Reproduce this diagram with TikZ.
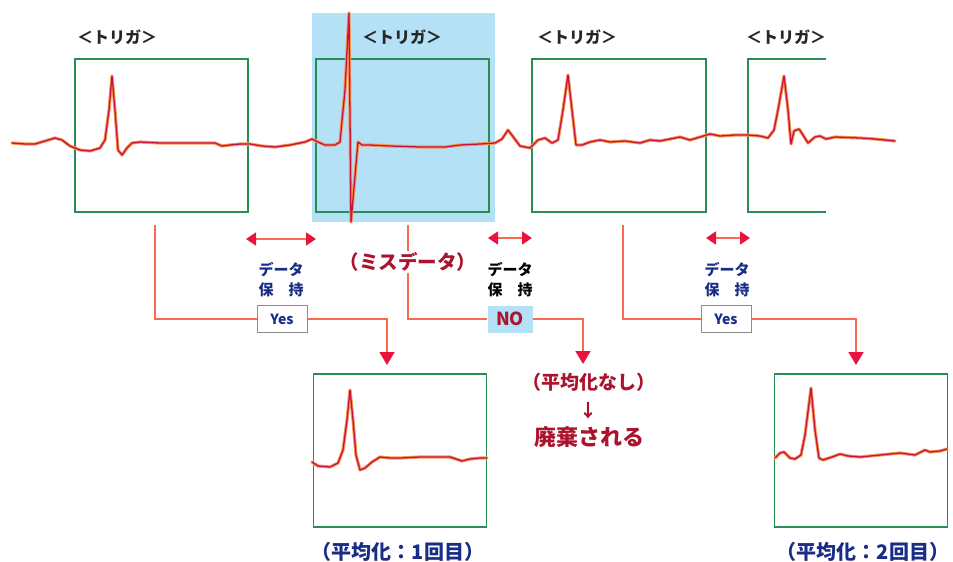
\documentclass[tikz,border=0pt]{standalone}
\usepackage{fontspec}
\setmainfont{Noto Sans CJK JP}
\usetikzlibrary{arrows.meta}
\definecolor{gbox}{RGB}{40,140,85}
\definecolor{ecg}{RGB}{200,20,60}
\definecolor{halo}{RGB}{245,150,90}
\definecolor{conncol}{RGB}{250,105,80}
\definecolor{tipcol}{RGB}{232,20,60}
\definecolor{hl}{RGB}{180,225,245}
\definecolor{dblue}{RGB}{25,45,135}
\definecolor{dred}{RGB}{170,20,45}
\tikzset{
  frame/.style={draw=gbox, line width=1.6pt, inner sep=0pt},
  trig/.style={font=\bfseries\fontsize{16}{16}\selectfont, text=black!85},
  conn/.style={draw=conncol, line width=1.6pt},
  downarrow/.style={conn, -{Triangle[width=15pt,length=13pt,color=tipcol]}},
  dbl/.style={conn, {Triangle[width=13pt,length=10pt,color=tipcol]}-{Triangle[width=13pt,length=10pt,color=tipcol]}},
  keep/.style={font=\bfseries\fontsize{15}{20}\selectfont, align=center},
  yesbox/.style={draw=black!45, fill=white, line width=1pt, minimum width=50pt, minimum height=27pt, inner sep=0pt, text=dblue, font=\bfseries\fontsize{14}{14}\selectfont},
  nobox/.style={fill=hl, minimum width=45pt, minimum height=27pt, inner sep=0pt, text=dred, font=\bfseries\fontsize{18}{18}\selectfont},
  redlbl/.style={text=dred, font=\bfseries\fontsize{19}{19}\selectfont},
  bluelbl/.style={text=dblue, font=\bfseries\fontsize{20}{20}\selectfont},
  halotrace/.style={draw=halo, line width=3.2pt, line join=round, line cap=round},
  redtrace/.style={draw=ecg, line width=1.3pt, line join=round, line cap=round}
}
\begin{document}
\begin{tikzpicture}[x=1pt,y=-1pt]
\useasboundingbox (0,0) rectangle (953,562);
% highlight
\fill[hl] (312,13) rectangle (495,222);
% top frames
\node[frame, minimum width=173pt, minimum height=153pt] (f1) at (161.5,135.5) {};
\node[frame, minimum width=173pt, minimum height=153pt] (f2) at (402.5,135.5) {};
\node[frame, minimum width=174pt, minimum height=153pt] (f3) at (619,135.5) {};
\draw[draw=gbox, line width=1.6pt] (826,59) -- (748,59) -- (748,212) -- (826,212);
% trigger labels
\node[trig] (t1) at (117,37) {＜トリガ＞};
\node[trig] (t2) at (402,37) {＜トリガ＞};
\node[trig] (t3) at (577,37) {＜トリガ＞};
\node[trig] (t4) at (786,37) {＜トリガ＞};
% main trace
\def\maintrace{(12,143) (25,144) (35,144) (45,141) (55,138) (62,140) (70,146) (80,150) (90,151) (100,148) (105,140) (109,110) (112,76) (115,110) (118,150) (122,155) (127,148) (132,143) (140,142) (160,143) (180,143) (200,143) (215,143) (222,146) (230,145) (240,144) (250,144) (262,146) (275,147) (290,145) (305,142) (312,139) (318,142) (325,145) (335,145) (340,142) (345,90) (349,13) (351,222) (358,142) (362,145) (370,145) (390,146) (420,147) (445,147) (460,145) (480,144) (495,143) (502,139) (508,130) (514,138) (520,146) (530,148) (538,140) (545,138) (552,143) (558,140) (563,110) (568,75) (572,110) (576,145) (582,145) (590,142) (600,140) (610,142) (625,141) (640,143) (650,140) (660,141) (680,137) (690,140) (700,137) (710,134) (720,136) (735,135) (748,135) (760,136) (768,138) (774,130) (778,110) (784,76) (788,110) (791,144) (794,131) (799,129) (803,135) (808,143) (815,137) (820,136) (826,139) (835,137) (860,138) (875,139) (895,141)}
\draw[halotrace] plot coordinates {\maintrace};
\draw[redtrace] plot coordinates {\maintrace};
% bottom frames
\node[frame, minimum width=173pt, minimum height=153pt] (f5) at (400,450.5) {};
\node[frame, minimum width=173pt, minimum height=153pt] (f6) at (861,450.5) {};
\def\trfive{(312,462) (318,466) (330,467) (338,463) (343,450) (347,420) (350,390) (353,420) (356,455) (360,470) (365,468) (372,462) (380,457) (390,458) (400,458) (420,457) (450,457) (456,459) (462,461) (470,459) (480,458) (487,458)}
\draw[halotrace] plot coordinates {\trfive};
\draw[redtrace] plot coordinates {\trfive};
\def\trsix{(775,458) (780,453) (784,452) (790,458) (795,459) (801,455) (805,435) (811,388) (815,430) (819,458) (823,460) (832,457) (840,454) (848,456) (860,457) (880,455) (900,453) (915,455) (925,450) (930,452) (940,451) (947,449)}
\draw[halotrace] plot coordinates {\trsix};
\draw[redtrace] plot coordinates {\trsix};
% decision boxes
\node[yesbox] (y1) at (282,319) {Yes};
\node[nobox] (n2) at (510,319) {NO};
\node[yesbox] (y3) at (726,319) {Yes};
% connector start and end points
\coordinate (s1) at (155,225);
\coordinate (s2) at (408,225);
\coordinate (s3) at (623,225);
\coordinate (e1) at (387,365);
\coordinate (e2) at (583,364);
\coordinate (e3) at (856,365);
\draw[conn] (s1) |- (y1.west);
\draw[downarrow] (y1.east) -| (e1);
\draw[conn] (s2) |- (n2.west);
\draw[downarrow] (n2.east) -| (e2);
\draw[conn] (s3) |- (y3.west);
\draw[downarrow] (y3.east) -| (e3);
% miss-data label (covers the line)
\node[redlbl, fill=white, inner sep=1pt, font=\bfseries\fontsize{19.5}{19.5}\selectfont] (miss) at (408,262) {（ミスデータ）};
% hold arrows
\coordinate (d1a) at (246,239); \coordinate (d1b) at (316,239);
\coordinate (d2a) at (488,238); \coordinate (d2b) at (532,238);
\coordinate (d3a) at (706,238); \coordinate (d3b) at (750,238);
\draw[dbl] (d1a) -- (d1b);
\draw[dbl] (d2a) -- (d2b);
\draw[dbl] (d3a) -- (d3b);
\node[keep, text=dblue] (k1) at (281,280) {データ\\保\hspace{1em}持};
\node[keep, text=black] (k2) at (510,280) {データ\\保\hspace{1em}持};
\node[keep, text=dblue] (k3) at (727,280) {データ\\保\hspace{1em}持};
% discard text
\node[redlbl] (nav) at (589,382) {（平均化なし）};
\node[redlbl, font=\bfseries\fontsize{18}{18}\selectfont] (dar) at (588,411) {↓};
\node[redlbl, font=\bfseries\fontsize{22}{22}\selectfont] (disc) at (589,437) {廃棄される};
% averaging labels
\node[bluelbl] (av1) at (398,552) {（平均化：1回目）};
\node[bluelbl] (av2) at (863,552) {（平均化：2回目）};
\end{tikzpicture}
\end{document}
